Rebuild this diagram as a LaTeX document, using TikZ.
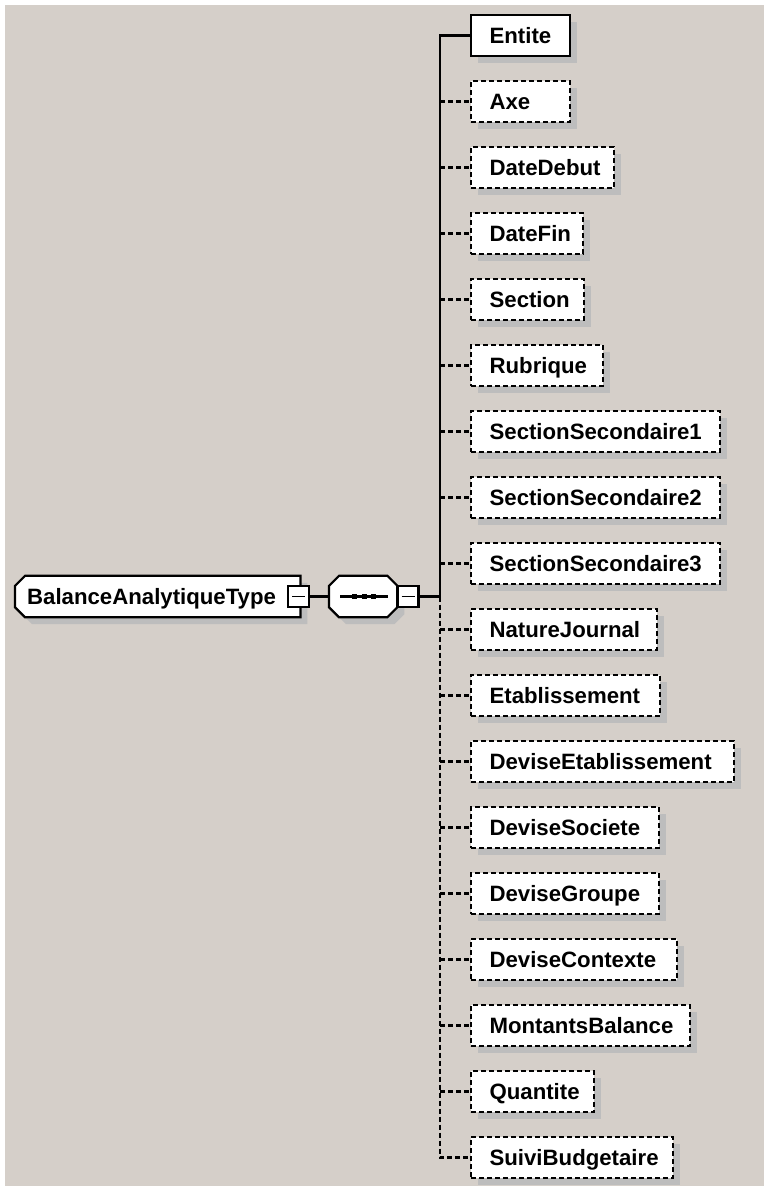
\documentclass[tikz,border=0pt]{standalone}
\usepackage{fontspec}
\setmainfont{Liberation Sans}
\usetikzlibrary{shadows,backgrounds}
\definecolor{bg}{RGB}{213,207,201}
\definecolor{shg}{RGB}{189,189,189}
\newcommand\typepath{([xshift=10bp]type.north west) -- (type.north east) -- (type.south east)
  -- ([xshift=10bp]type.south west) -- ([yshift=10bp]type.south west)
  -- ([yshift=-10bp]type.north west) -- cycle}
\newcommand\seqpath{([xshift=10bp]seq.north west) -- ([xshift=-10bp]seq.north east)
  -- ([yshift=-10bp]seq.north east) -- ([yshift=10bp]seq.south east)
  -- ([xshift=-10bp]seq.south east) -- ([xshift=10bp]seq.south west)
  -- ([yshift=10bp]seq.south west) -- ([yshift=-10bp]seq.north west) -- cycle}
\begin{document}
\begin{tikzpicture}[x=1bp,y=-1bp,
  every node/.style={font=\fontsize{22.2bp}{26bp}\selectfont\bfseries},
  shadowed/.style={drop shadow={shadow xshift=7bp,shadow yshift=-7bp,fill=shg,opacity=1}},
  elem/.style={draw, line width=2.2bp, fill=white, shadowed, anchor=west,
    minimum height=41bp, inner xsep=18.5bp, inner ysep=0pt,
    text height=15.9bp, text depth=0pt},
  opt/.style={elem, dash pattern=on 5bp off 3bp},
  conn/.style={line width=2.2bp},
  dconn/.style={conn, dash pattern=on 5bp off 3bp},
  shapeline/.style={draw, line width=2.2bp, fill=white},
  shapeshadow/.style={fill=shg, transform canvas={shift={(7bp,-7bp)}}},
  minusbox/.style={draw, line width=2.2bp, fill=white, minimum size=21bp, inner sep=0pt},
  minussign/.style={line width=1.8bp},
  plain/.style={minimum height=41bp, inner ysep=0pt, text height=15.9bp, text depth=0pt, anchor=west}
]
\useasboundingbox (0,0) rectangle (764,1186);

% type node (shape drawn behind)
\node[plain, minimum width=285bp, inner xsep=12bp] (type) at (15,596.5)
  {\makebox[261bp][l]{BalanceAnalytiqueType}};
% sequence node
\node[plain, minimum width=68bp, inner xsep=0pt] (seq) at (329,596.5) {};

\begin{pgfonlayer}{background}
  \fill[white] (0,0) rectangle (764,1186);
  \fill[bg] (5,5) rectangle (764,1186);
  \fill[shapeshadow] \typepath;
  \path[shapeline] \typepath;
  \fill[shapeshadow] \seqpath;
  \path[shapeline] \seqpath;
\end{pgfonlayer}

\node[minusbox] (m1) at (298.5,596.5) {};
\draw[minussign] ([xshift=-6.5bp]m1.center) -- ([xshift=6.5bp]m1.center);

\draw[conn] ([xshift=-23bp]seq.center) -- ([xshift=25bp]seq.center);
\foreach \dx in {-8.5,1,10.5}
  \fill ([xshift=\dx bp]seq.center) ++(-2.7bp,-2.7bp) rectangle ++(5.4bp,5.4bp);
\node[minusbox] (m2) at (408,596.5) {};
\draw[minussign] ([xshift=-6.5bp]m2.center) -- ([xshift=6.5bp]m2.center);

\draw[conn] (m1.east) -- (seq.west);
\coordinate (J) at (440,596.5);
\draw[conn] (m2.east) -- (J);

% elements
\node[elem] (e1) at (470,35.5) {\makebox[62bp][l]{Entite}};
\foreach \t/\w [count=\i from 2] in {Axe/99, DateDebut/143, DateFin/112, Section/113,
  Rubrique/132, SectionSecondaire1/249, SectionSecondaire2/249, SectionSecondaire3/249,
  NatureJournal/186, Etablissement/189, DeviseEtablissement/263, DeviseSociete/188,
  DeviseGroupe/188, DeviseContexte/206, MontantsBalance/219, Quantite/123,
  SuiviBudgetaire/202}
  \node[opt] (e\i) at (470,{35.5+66*(\i-1)}) {\makebox[\dimexpr\w bp-37bp\relax][l]{\t}};

% trunk
\draw[conn] (J) |- (e1.west);
\draw[dconn] (J) |- (e18.west);
\foreach \i in {2,...,17}
  \draw[dconn] (e\i.west -| J) -- (e\i.west);
\end{tikzpicture}
\end{document}
